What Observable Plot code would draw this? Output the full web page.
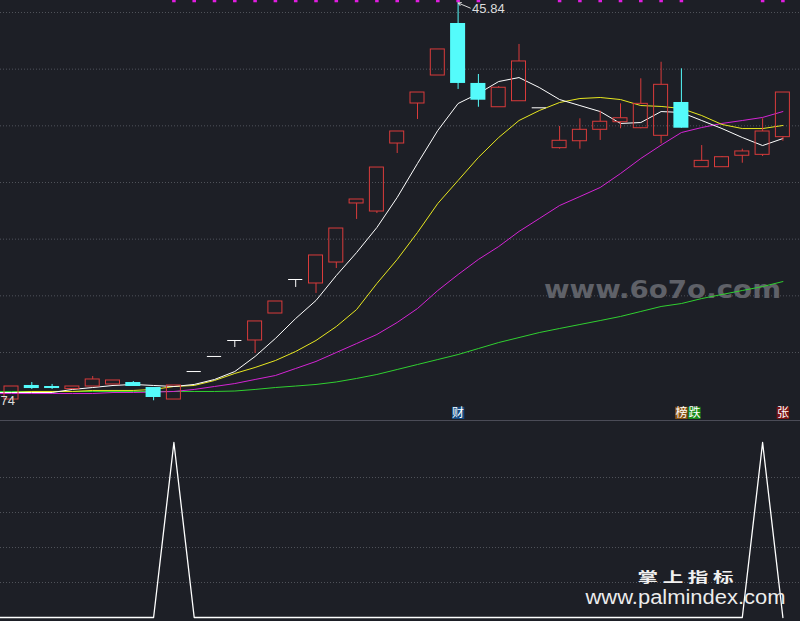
<!DOCTYPE html>
<html><head><meta charset="utf-8">
<script src="https://cdn.jsdelivr.net/npm/d3@7"></script>
<script src="https://cdn.jsdelivr.net/npm/@observablehq/plot@0.6"></script>
<style>
html,body{margin:0;padding:0;background:#1d1f26;}
#chart{width:800px;height:621px;overflow:hidden;background:#1d1f26;}
#chart svg{display:block;}
</style></head>
<body><div id="chart"></div>
<script>
// ---------- DATA ----------
// daily candles, bar 0..38
const open  = [10.85,12.09,12.00,11.77,12.00,12.18,12.35,11.91,10.85,13.32,14.65,16.06,16.06,18.44,21.44,21.09,22.94,28.15,27.44,33.44,36.97,39.44,44.03,38.74,36.64,37.17,36.59,33.03,33.64,34.65,35.32,34.79,34.12,37.06,31.35,31.35,32.36,32.44,34.00];
const high  = [12.00,12.35,12.18,12.00,12.88,12.53,12.44,11.91,12.09,13.32,14.65,16.06,17.74,19.50,21.44,23.56,25.94,28.50,31.32,34.50,37.94,41.74,45.84,39.53,38.47,42.18,36.59,34.94,35.62,36.29,36.94,39.15,40.61,40.03,33.26,32.29,32.94,35.62,37.94];
const low   = [10.85,11.74,11.74,11.77,12.00,12.18,12.00,10.74,10.85,13.32,14.65,15.44,14.91,18.44,20.74,20.21,22.41,26.74,27.26,32.56,35.56,39.44,38.21,36.64,36.64,37.17,36.59,32.94,32.94,33.71,34.74,34.74,33.41,34.79,31.35,31.35,31.70,32.29,33.64];
const close = [12.00,11.82,11.82,12.00,12.62,12.53,12.00,11.03,12.09,13.32,14.65,16.06,17.74,19.50,21.44,23.56,25.94,28.50,31.32,34.50,37.94,41.74,38.74,37.26,38.36,40.68,36.59,33.68,34.65,35.36,35.67,36.94,38.62,34.79,31.91,32.23,32.74,34.50,37.94];
// moving averages, bar -1 (just off the left edge) .. 38
const ma5  = [11.47,11.47,11.47,11.47,11.74,11.91,12.09,12.18,12.09,12.00,12.18,12.62,13.32,14.65,16.24,18.00,19.59,21.79,23.82,26.03,28.68,31.68,34.59,36.97,37.85,38.91,39.26,38.38,37.32,36.79,36.26,35.21,35.29,36.26,36.18,35.47,34.76,33.97,33.26,33.88];
const ma10 = [11.47,11.47,11.56,11.56,11.56,11.65,11.65,11.65,11.74,12.00,12.09,12.53,13.15,13.68,14.29,15.09,16.06,17.29,18.79,21.09,23.21,25.59,28.15,30.18,32.21,33.97,35.47,36.35,37.06,37.41,37.50,37.32,36.79,36.71,36.53,35.91,35.12,34.76,34.76,35.03];
const ma20 = [11.38,11.38,11.38,11.38,11.38,11.38,11.47,11.47,11.51,11.56,11.74,12.00,12.26,12.62,12.97,13.59,14.21,15.00,15.79,16.59,17.65,18.88,20.47,21.88,23.21,24.35,25.68,26.82,27.97,28.76,29.56,30.79,32.12,33.30,34.41,34.85,35.21,35.47,35.74,36.26];
const ma60 = [11.56,11.56,11.56,11.56,11.56,11.56,11.56,11.56,11.56,11.56,11.56,11.56,11.60,11.74,11.91,12.04,12.18,12.40,12.71,13.06,13.50,13.94,14.38,14.82,15.35,15.88,16.32,16.76,17.12,17.47,17.82,18.18,18.62,19.06,19.32,19.76,20.12,20.47,20.82,21.26];
// lower indicator, bar -1 .. 38
const signal = [0,0,0,0,0,0,0,0,0,100,0,0,0,0,0,0,0,0,0,0,0,0,0,0,0,0,0,0,0,0,0,0,0,0,0,0,0,0,100,0];
// magenta marks along the top edge (bar numbers)
const topMarks = [8,9,10,11,12,13,14,15,16,17,18,19,20,21,22,23,27,28,29,30,31,32,33,37,38];
// event tags under the candles
const eventBar  = [22,33,33,38];
const eventText = ["财","榜","跌","张"];
// tick values
const priceTicks  = [15,20,25,30,35,40,45];
const signalTicks = [20,40,60,80];
const lowLabel = "74";
const watermark1 = "www.6o7o.com";
const watermark2 = "掌 上 指 标";
const watermark3 = "www.palmindex.com";

// ---------- STYLE ----------
const BG = "#1d1f26", RED = "#d93b3b", CYAN = "#54fbfb", MAG = "#e01ee0";
const GRID = "#50535b";
const eventBg = {"财":"#134a82","榜":"#8a5414","跌":"#1a8a1a","张":"#7a1414"};
const maStyle = [
  {values: ma60, color: "#30d030"},
  {values: ma20, color: "#d424d4"},
  {values: ma10, color: "#e8e820"},
  {values: ma5,  color: "#ffffff"}
];

// ---------- BUILD ----------
const N = close.length;
const candles = d3.range(N).map(i => ({i, o: open[i], h: high[i], l: low[i], c: close[i]}));
const up = candles.filter(d => d.c > d.o);
const down = candles.filter(d => d.c < d.o);
const flat = candles.filter(d => d.c === d.o);
const lineIdx = d3.range(-1, N);
const xDomain = [-0.5419, 38.867];
const hiIdx = high.indexOf(d3.max(high));
const hi = [{i: hiIdx, v: high[hiIdx]}];
const events = eventBar.map((b, k) => ({i: b, t: eventText[k], slot: eventBar.slice(0, k).filter(x => x === b).length}));

const font = "'Liberation Sans', Arial, sans-serif";
const cjk = "'Noto Sans CJK SC', sans-serif";

const p1 = Plot.plot({
  width: 800, height: 419, marginTop: 0, marginBottom: 0, marginLeft: 0, marginRight: 0,
  x: {domain: xDomain, axis: null},
  y: {domain: [9.088, 46.0588], axis: null},
  style: {background: BG, fontFamily: font, overflow: "hidden"},
  marks: [
    Plot.ruleY(priceTicks, {stroke: GRID, strokeDasharray: "1,2"}),
    Plot.text([watermark1], {frameAnchor: "bottom-right", dx: -138, dy: -129, textAnchor: "middle", lineAnchor: "middle",
      fontSize: 24, fontWeight: "bold", fontFamily: "'DejaVu Sans', sans-serif", fill: "#5f6168"}),
    ...maStyle.map(s => Plot.line(lineIdx, {x: d => d, y: (d, k) => s.values[k], stroke: s.color, strokeWidth: 1, clip: true})),
    // up candles: hollow red
    Plot.ruleX(up, {x: "i", y1: d => Math.max(d.o, d.c), y2: "h", stroke: RED}),
    Plot.ruleX(up, {x: "i", y1: "l", y2: d => Math.min(d.o, d.c), stroke: RED}),
    Plot.rect(up, {x1: d => d.i - 0.345, x2: d => d.i + 0.345, y1: "o", y2: "c", stroke: RED, fill: "none"}),
    // down candles: filled cyan
    Plot.ruleX(down, {x: "i", y1: "l", y2: "h", stroke: CYAN}),
    Plot.rect(down, {x1: d => d.i - 0.37, x2: d => d.i + 0.37, y1: "o", y2: "c", fill: CYAN}),
    // flat candles: white
    Plot.ruleX(flat, {x: "i", y1: "l", y2: "h", stroke: "#ffffff"}),
    Plot.ruleY(flat, {y: "c", x1: d => d.i - 0.35, x2: d => d.i + 0.35, stroke: "#ffffff"}),
    // top marks
    Plot.dot(topMarks, {x: d => d, frameAnchor: "top", symbol: "square", r: 2, fill: MAG, stroke: null}),
    // high label
    Plot.arrow(hi, {x1: d => d.i + 0.6, y1: d => d.v - 0.45, x2: "i", y2: "v", stroke: "#d8d8d8", strokeWidth: 1, headLength: 5}),
    Plot.text(hi, {x: "i", y: "v", text: d => d.v.toFixed(2), dx: 14, dy: 6, textAnchor: "start", fill: "#dcdcdc", fontSize: 13}),
    // low label (cut at the left edge)
    Plot.text([lowLabel], {frameAnchor: "left", y: () => d3.min(low), textAnchor: "start", fill: "#dcdcdc", fontSize: 13}),
    // event tags
    ...events.flatMap(e => [
      Plot.dot([e], {x: "i", frameAnchor: "bottom", dx: e.slot * 13, dy: -6.5, symbol: "square", r: 7, fill: eventBg[e.t], stroke: null}),
      Plot.text([e], {x: "i", frameAnchor: "bottom", dx: e.slot * 13, dy: -6.5, text: "t", fill: "#ffffff", fontSize: 12, fontFamily: cjk, lineAnchor: "middle"})
    ])
  ]
});

const p2 = Plot.plot({
  width: 800, height: 202, marginTop: 1, marginBottom: 0, marginLeft: 0, marginRight: 0,
  x: {domain: xDomain, axis: null},
  y: {domain: [-2.2857, 112.571], axis: null},
  style: {background: BG, fontFamily: font, overflow: "hidden"},
  marks: [
    Plot.ruleY([112.571], {stroke: "#4b4c57"}),
    Plot.ruleY(signalTicks, {stroke: GRID, strokeDasharray: "1,2"}),
    Plot.line(lineIdx, {x: d => d, y: (d, k) => signal[k], stroke: "#ffffff", strokeWidth: 1.3, clip: true}),
    Plot.text([watermark2], {frameAnchor: "bottom-right", dx: -115, dy: -44, textAnchor: "middle", lineAnchor: "middle",
      fontSize: 14, fontWeight: "bold", fontFamily: cjk, fill: "#f0f0f0"}),
    Plot.text([watermark3], {frameAnchor: "bottom-right", dx: -115, dy: -24, textAnchor: "middle", lineAnchor: "middle",
      fontSize: 20, fontFamily: font, fill: "#ececec"})
  ]
});

const root = document.getElementById("chart");
root.appendChild(p1);
root.appendChild(p2);
const fit = (svg, txt, len) => d3.select(svg).selectAll("text").filter(function() { return this.textContent === txt; })
  .attr("textLength", len).attr("lengthAdjust", "spacingAndGlyphs");
fit(p1, watermark1, 237);
fit(p2, watermark2, 96);
fit(p2, watermark3, 200);
</script>
</body></html>
